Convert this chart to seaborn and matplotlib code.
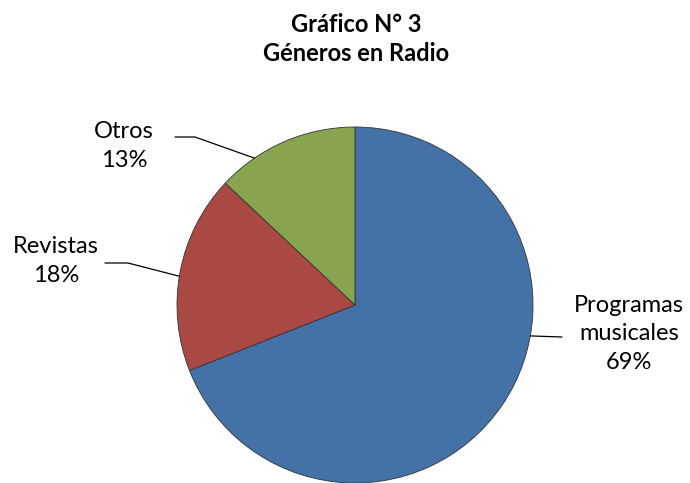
import numpy as np
import matplotlib
matplotlib.use("Agg")
import matplotlib.pyplot as plt
import seaborn as sns

# data
categorias = ["Programas\nmusicales", "Revistas", "Otros"]
porcentajes = [69, 18, 13]
colores = ["#4472A7", "#AA4944", "#89A44E"]

sns.set_theme(style="white")
plt.rcParams["font.family"] = ["Lato", "DejaVu Sans"]

W, H = 690, 483
fig = plt.figure(figsize=(6.9, 4.83), dpi=100)
ax = fig.add_axes([0, 0, 1, 1])

cx, cy, r = 355, H - 305, 178
wedges, _ = ax.pie(porcentajes, colors=colores, startangle=90, counterclock=False,
                   center=(cx, cy), radius=r, frame=True,
                   wedgeprops=dict(edgecolor="#333333", linewidth=0.6))
ax.set_xlim(0, W)
ax.set_ylim(0, H)
ax.set_aspect("equal")
ax.axis("off")

# label layout: text position, leader start, elbow, angle on the edge
layout = {
    "Otros": dict(text=(124, 146), pts=[(175, 137), (195, 137)], ang=124.4),
    "Revistas": dict(text=(56, 261), pts=[(105, 263), (128, 263)], ang=170.7),
    "Programas\nmusicales": dict(text=(629, 334), pts=[(562, 337)], ang=-10),
}
for cat, pct in zip(categorias, porcentajes):
    lay = layout[cat]
    tx, ty = lay["text"]
    ax.text(tx, H - ty, f"{cat}\n{pct}%", ha="center", va="center",
            fontsize=17, color="#000000", linespacing=1.42)
    a = np.deg2rad(lay["ang"])
    xs = [p[0] for p in lay["pts"]] + [cx + r * np.cos(a)]
    ys = [H - p[1] for p in lay["pts"]] + [cy + r * np.sin(a)]
    ax.plot(xs, ys, color="#000000", linewidth=0.9)

ax.text(356, H - 39, "Gráfico N° 3\nGéneros en Radio", ha="center", va="center",
        fontsize=17, fontweight="bold", color="#000000", linespacing=1.3)

fig.savefig("out.png", dpi=100, facecolor="white")
